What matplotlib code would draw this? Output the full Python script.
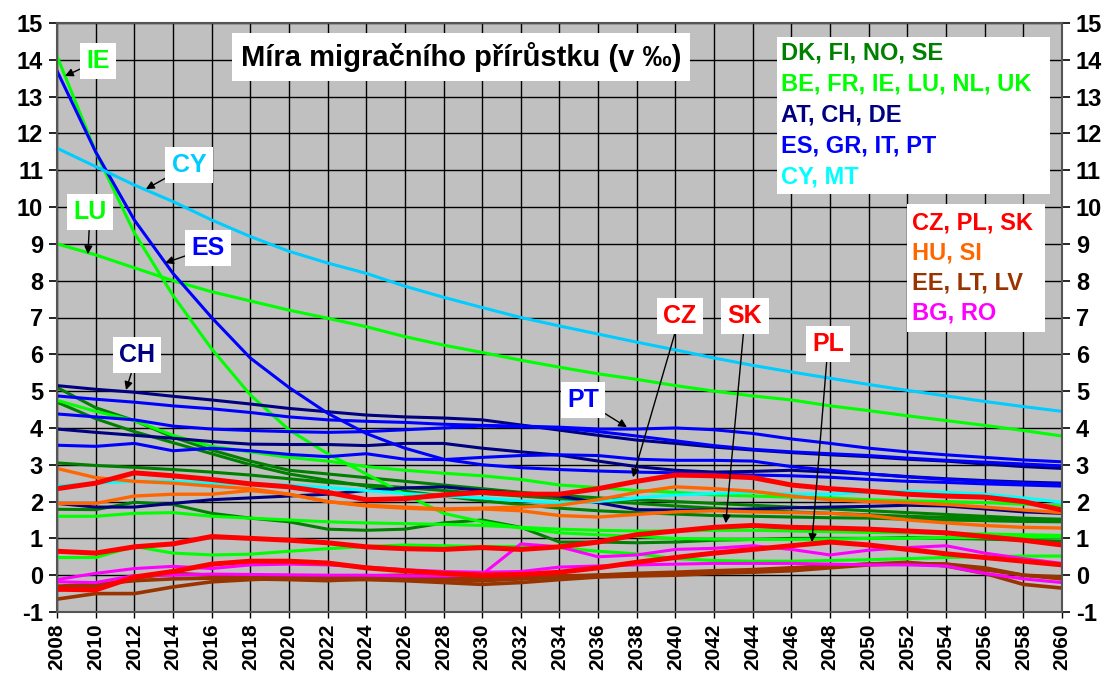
import matplotlib.pyplot as plt
from matplotlib.patches import Rectangle

plt.rcParams["font.family"] = ["Liberation Sans", "DejaVu Sans"]
plt.rcParams["font.weight"] = "bold"

years = list(range(2008, 2061, 2))

# dark green: DK, FI, NO, SE
dgreen_1 = [5.1, 4.55, 4.2, 3.75, 3.4, 3.1, 2.85, 2.75, 2.65, 2.55, 2.45, 2.35, 2.25, 2.17, 2.1, 2.05, 2.0, 1.95, 1.9, 1.85, 1.8, 1.75, 1.7, 1.65, 1.6, 1.55, 1.52]
dgreen_2 = [4.7, 4.25, 3.9, 3.6, 3.3, 3.0, 2.75, 2.58, 2.42, 2.28, 2.15, 2.02, 1.92, 1.82, 1.75, 1.7, 1.66, 1.62, 1.6, 1.58, 1.56, 1.55, 1.52, 1.5, 1.48, 1.46, 1.45]
dgreen_3 = [3.05, 2.98, 2.93, 2.87, 2.8, 2.72, 2.62, 2.52, 2.45, 2.38, 2.3, 2.22, 2.15, 2.08, 2.02, 1.95, 1.88, 1.82, 1.77, 1.72, 1.68, 1.64, 1.6, 1.57, 1.55, 1.52, 1.5]
dgreen_4 = [1.79, 1.78, 1.98, 1.92, 1.68, 1.55, 1.45, 1.25, 1.22, 1.25, 1.42, 1.5, 1.3, 0.9, 0.9, 0.88, 0.9, 0.95, 0.97, 1.0, 1.0, 1.0, 1.02, 1.0, 0.98, 0.95, 0.92]

# light green: BE, FR, IE, LU, NL, UK
ie = [14.1, 11.5, 9.3, 7.6, 6.15, 4.9, 3.95, 3.3, 2.75, 2.2, 1.68, 1.45, 1.28, 1.15, 1.1, 1.05, 1.0, 0.98, 0.97, 0.97, 0.98, 1.0, 1.0, 1.02, 1.02, 1.03, 1.03]
lu = [9.0, 8.7, 8.35, 8.0, 7.7, 7.45, 7.2, 6.98, 6.75, 6.48, 6.25, 6.05, 5.84, 5.65, 5.47, 5.32, 5.15, 5.0, 4.87, 4.76, 4.6, 4.47, 4.33, 4.2, 4.07, 3.93, 3.78]
lgreen_1 = [4.75, 4.45, 4.2, 3.8, 3.5, 3.35, 3.2, 3.1, 2.95, 2.85, 2.77, 2.7, 2.6, 2.45, 2.38, 2.3, 2.25, 2.18, 2.15, 2.12, 2.1, 2.05, 2.02, 2.0, 1.97, 1.93, 1.88]
lgreen_2 = [1.6, 1.6, 1.68, 1.7, 1.6, 1.55, 1.5, 1.45, 1.42, 1.4, 1.38, 1.35, 1.3, 1.25, 1.22, 1.2, 1.2, 1.22, 1.22, 1.2, 1.18, 1.16, 1.15, 1.13, 1.12, 1.1, 1.08]
lgreen_3 = [0.48, 0.48, 0.78, 0.6, 0.55, 0.57, 0.65, 0.72, 0.78, 0.82, 0.8, 0.78, 0.78, 0.75, 0.65, 0.58, 0.45, 0.4, 0.38, 0.38, 0.4, 0.42, 0.45, 0.48, 0.5, 0.52, 0.52]

# navy: AT, CH, DE
ch = [5.15, 5.05, 4.97, 4.86, 4.76, 4.65, 4.53, 4.44, 4.35, 4.3, 4.27, 4.22, 4.08, 3.94, 3.8, 3.67, 3.58, 3.48, 3.4, 3.33, 3.27, 3.22, 3.15, 3.1, 3.02, 2.95, 2.9]
navy_2 = [3.97, 3.88, 3.8, 3.72, 3.63, 3.56, 3.55, 3.55, 3.52, 3.58, 3.58, 3.45, 3.35, 3.26, 3.1, 2.95, 2.85, 2.8, 2.82, 2.85, 2.8, 2.75, 2.68, 2.62, 2.57, 2.53, 2.5]
navy_3 = [1.95, 1.85, 1.85, 1.95, 2.05, 2.1, 2.15, 2.2, 2.3, 2.37, 2.4, 2.3, 2.22, 2.15, 1.97, 1.78, 1.77, 1.77, 1.8, 1.83, 1.85, 1.87, 1.9, 1.88, 1.8, 1.72, 1.68]

# blue: ES, GR, IT, PT
es = [13.7, 11.5, 9.65, 8.2, 7.0, 5.9, 5.1, 4.4, 3.85, 3.45, 3.15, 3.0, 2.92, 2.87, 2.83, 2.8, 2.78, 2.75, 2.72, 2.7, 2.66, 2.6, 2.55, 2.52, 2.48, 2.45, 2.42]
pt = [4.87, 4.78, 4.7, 4.6, 4.52, 4.42, 4.3, 4.22, 4.18, 4.15, 4.1, 4.07, 4.05, 4.02, 3.97, 3.97, 4.0, 3.95, 3.85, 3.7, 3.58, 3.45, 3.35, 3.27, 3.2, 3.13, 3.08]
blue_2 = [4.38, 4.3, 4.22, 4.05, 3.97, 3.93, 3.9, 3.88, 3.9, 3.95, 4.0, 4.05, 4.03, 4.0, 3.9, 3.78, 3.65, 3.52, 3.42, 3.35, 3.3, 3.25, 3.18, 3.12, 3.07, 3.02, 2.97]
blue_3 = [3.53, 3.5, 3.58, 3.38, 3.45, 3.38, 3.28, 3.22, 3.3, 3.15, 3.14, 3.2, 3.25, 3.27, 3.25, 3.15, 3.12, 3.12, 3.1, 2.95, 2.85, 2.75, 2.67, 2.6, 2.55, 2.5, 2.47]

# CY, MT
cy = [11.6, 11.1, 10.6, 10.15, 9.65, 9.2, 8.8, 8.48, 8.2, 7.85, 7.55, 7.27, 7.0, 6.77, 6.55, 6.33, 6.12, 5.9, 5.7, 5.52, 5.35, 5.18, 5.02, 4.87, 4.72, 4.58, 4.45]
mt = [2.42, 2.5, 2.55, 2.55, 2.5, 2.48, 2.45, 2.38, 2.3, 2.22, 2.15, 2.1, 2.02, 1.97, 2.0, 2.1, 2.18, 2.22, 2.25, 2.2, 2.2, 2.25, 2.28, 2.25, 2.2, 2.1, 1.98]

# red: CZ, PL, SK
cz = [2.35, 2.5, 2.78, 2.7, 2.6, 2.48, 2.4, 2.25, 2.05, 2.08, 2.18, 2.25, 2.2, 2.2, 2.35, 2.55, 2.72, 2.7, 2.65, 2.45, 2.35, 2.28, 2.2, 2.15, 2.12, 2.0, 1.77]
sk = [0.65, 0.6, 0.77, 0.85, 1.05, 1.0, 0.95, 0.88, 0.77, 0.72, 0.7, 0.75, 0.7, 0.77, 0.9, 1.1, 1.2, 1.3, 1.35, 1.3, 1.28, 1.25, 1.2, 1.15, 1.05, 0.95, 0.82]
pl = [-0.38, -0.4, -0.05, 0.1, 0.3, 0.38, 0.38, 0.33, 0.2, 0.12, 0.05, 0.0, 0.02, 0.08, 0.2, 0.35, 0.48, 0.6, 0.7, 0.8, 0.9, 0.82, 0.7, 0.58, 0.48, 0.38, 0.28]

# orange: HU, SI
orange_1 = [2.9, 2.65, 2.55, 2.5, 2.42, 2.35, 2.2, 2.0, 1.88, 1.82, 1.78, 1.8, 1.75, 1.62, 1.58, 1.65, 1.72, 1.75, 1.72, 1.7, 1.68, 1.62, 1.5, 1.42, 1.35, 1.3, 1.28]
orange_2 = [1.95, 1.95, 2.15, 2.2, 2.2, 2.3, 2.2, 2.0, 1.9, 1.85, 1.8, 1.82, 1.85, 1.9, 2.05, 2.25, 2.4, 2.35, 2.28, 2.15, 2.05, 2.0, 1.97, 1.92, 1.85, 1.77, 1.7]

# brown: EE, LT, LV
brown_1 = [-0.65, -0.5, -0.5, -0.32, -0.18, -0.12, -0.08, -0.12, -0.12, -0.15, -0.2, -0.25, -0.2, -0.12, -0.05, -0.02, 0.0, 0.05, 0.08, 0.12, 0.2, 0.28, 0.32, 0.3, 0.15, 0.0, -0.05]
brown_2 = [-0.4, -0.32, -0.08, 0.05, 0.0, -0.05, -0.05, -0.05, -0.02, 0.0, -0.05, -0.08, -0.05, -0.02, 0.0, 0.02, 0.05, 0.08, 0.12, 0.18, 0.25, 0.3, 0.35, 0.25, 0.05, -0.25, -0.35]
brown_3 = [-0.3, -0.25, -0.15, -0.1, -0.08, -0.1, -0.12, -0.15, -0.1, -0.08, -0.12, -0.15, -0.1, -0.05, 0.0, 0.05, 0.08, 0.12, 0.15, 0.2, 0.25, 0.3, 0.32, 0.3, 0.2, 0.0, -0.1]

# magenta: BG, RO
magenta_1 = [-0.18, -0.2, -0.01, 0.0, 0.03, 0.02, 0.01, 0.0, 0.0, -0.02, -0.02, 0.02, 0.85, 0.77, 0.5, 0.55, 0.7, 0.73, 0.8, 0.7, 0.55, 0.68, 0.75, 0.8, 0.6, 0.45, 0.32]
magenta_2 = [-0.12, 0.05, 0.18, 0.24, 0.18, 0.28, 0.3, 0.28, 0.22, 0.15, 0.1, 0.08, 0.1, 0.22, 0.25, 0.28, 0.3, 0.32, 0.32, 0.32, 0.3, 0.28, 0.28, 0.25, 0.05, -0.1, -0.2]

DGREEN = "#008000"
LGREEN = "#00FF00"
NAVY = "#000080"
BLUE = "#0000FF"
SKY = "#00CCFF"
CYAN = "#00FFFF"
RED = "#FF0000"
ORANGE = "#FF6600"
BROWN = "#993300"
MAGENTA = "#FF00FF"

LW = 2.2
series = [
    (dgreen_1, DGREEN, LW), (dgreen_2, DGREEN, LW), (dgreen_3, DGREEN, LW), (dgreen_4, DGREEN, LW),
    (lgreen_1, LGREEN, LW), (lgreen_2, LGREEN, LW), (lgreen_3, LGREEN, LW), (lu, LGREEN, LW), (ie, LGREEN, LW),
    (navy_3, NAVY, LW), (navy_2, NAVY, LW), (ch, NAVY, LW),
    (blue_3, BLUE, LW), (blue_2, BLUE, LW), (pt, BLUE, LW), (es, BLUE, LW),
    (cy, SKY, LW), (mt, CYAN, LW),
    (orange_1, ORANGE, 2.4), (orange_2, ORANGE, 2.4),
    (brown_1, BROWN, 2.6), (brown_2, BROWN, 2.6), (brown_3, BROWN, 2.6),
    (magenta_1, MAGENTA, LW), (magenta_2, MAGENTA, LW),
    (cz, RED, 3.6), (sk, RED, 3.6), (pl, RED, 3.6),
]

fig = plt.figure(figsize=(11.12, 6.79), dpi=100)
ax = fig.add_axes([57 / 1112, 1 - 612 / 679, 1005 / 1112, 589 / 679])
ax.set_facecolor("#C0C0C0")

for vals, col, lw in series:
    ax.plot(years, vals, color=col, lw=lw, solid_joinstyle="round")

ax.set_xlim(2008, 2060)
ax.set_ylim(-1, 15)
ax.set_xticks(years)
ax.set_xticklabels([str(y) for y in years], rotation=90, fontsize=15, fontweight="bold")
ax.set_yticks(range(-1, 16))
ax.set_yticklabels([str(v) for v in range(-1, 16)], fontsize=17, fontweight="bold")
ax.tick_params(axis="y", right=True, labelright=True, length=6, width=1.2, pad=4)
ax.tick_params(axis="x", length=4, width=1, pad=4)
ax.grid(True, color="black", lw=1)
ax.set_axisbelow(True)
for s in ax.spines.values():
    s.set_color("#555555")
    s.set_linewidth(1.5)

ax.text(2028.9, 14.08, "Míra migračního přírůstku (v ‰)", ha="center", va="center",
        fontsize=21, fontweight="bold", color="black", zorder=20,
        bbox=dict(boxstyle="square,pad=0.3", fc="white", ec="none"))

# legend boxes
ax.add_patch(Rectangle((2045.25, 10.35), 14.13, 4.27, fc="white", ec="none", zorder=15))
legend_1 = [("DK, FI, NO, SE", DGREEN), ("BE, FR, IE, LU, NL, UK", LGREEN),
            ("AT, CH, DE", NAVY), ("ES, GR, IT, PT", BLUE), ("CY, MT", CYAN)]
for i, (txt, col) in enumerate(legend_1):
    ax.text(2045.45, 14.18 - i * 0.84, txt, color=col, fontsize=17, fontweight="bold",
            va="center", ha="left", zorder=16)

ax.add_patch(Rectangle((2051.98, 6.6), 7.14, 3.48, fc="white", ec="none", zorder=15))
legend_2 = [("CZ, PL, SK", RED), ("HU, SI", ORANGE), ("EE, LT, LV", BROWN), ("BG, RO", MAGENTA)]
for i, (txt, col) in enumerate(legend_2):
    ax.text(2052.24, 9.57 - i * 0.82, txt, color=col, fontsize=17, fontweight="bold",
            va="center", ha="left", zorder=16)

# country labels with arrows
labels = [
    ("IE", LGREEN, (2008.41, 13.56), (2010.12, 13.97)),
    ("CY", SKY, (2012.6, 10.49), (2014.83, 11.14)),
    ("LU", LGREEN, (2009.6, 8.72), (2009.71, 9.86)),
    ("ES", BLUE, (2013.59, 8.48), (2015.81, 8.89)),
    ("CH", NAVY, (2011.57, 5.03), (2012.14, 5.98)),
    ("PT", BLUE, (2037.49, 4.02), (2035.22, 4.76)),
    ("CZ", RED, (2037.8, 2.66), (2040.23, 7.04)),
    ("SK", RED, (2042.6, 1.41), (2043.6, 7.04)),
    ("PL", RED, (2047.06, 0.9), (2047.9, 6.28)),
]
for txt, col, tip, pos in labels:
    ax.annotate(txt, xy=tip, xytext=pos, ha="center", va="center", color=col,
                fontsize=18, fontweight="bold", zorder=18,
                bbox=dict(boxstyle="square,pad=0.25", fc="white", ec="none"),
                arrowprops=dict(arrowstyle="-|>", color="black", lw=1,
                                mutation_scale=12, shrinkA=0, shrinkB=0))

fig.savefig("out.png", dpi=100)
